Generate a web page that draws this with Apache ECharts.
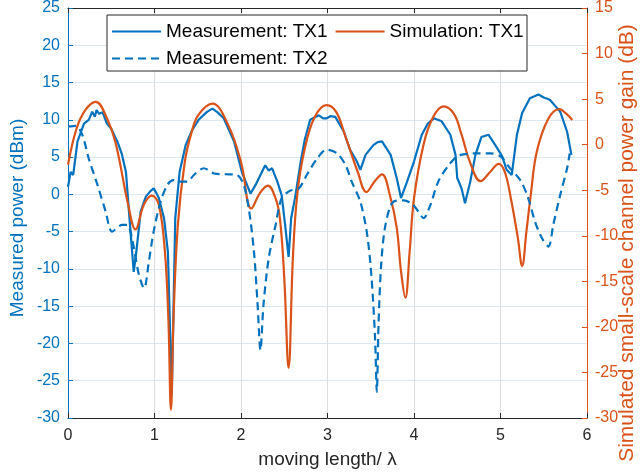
<!DOCTYPE html>
<html lang="en">

<head>
	<meta charset="UTF-8">
	<title>Measured power vs moving length</title>
	<script src="https://cdn.jsdelivr.net/npm/echarts@6/dist/echarts.min.js"></script>
	<style>
		html, body { margin: 0; padding: 0; background: #fff; }
		#main { width: 641px; height: 476px; }
	</style>
</head>

<body>
	<div id="main"></div>

	<script>
		// simulated channel gain (right axis, dB)
		const simX = [0, 0.1, 0.2, 0.32, 0.45, 0.55, 0.7, 0.78, 0.877, 0.97, 1.05, 1.12, 1.16, 1.19, 1.22, 1.27, 1.35, 1.43, 1.51, 1.67,
			1.85, 2.0, 2.12, 2.22, 2.31, 2.4, 2.45, 2.5, 2.55, 2.6, 2.65, 2.73, 2.85, 2.99, 3.1, 3.2, 3.35, 3.45, 3.54, 3.63,
			3.72, 3.8, 3.85, 3.9, 3.95, 4.0, 4.11, 4.22, 4.34, 4.46, 4.55, 4.65, 4.77, 4.88, 4.98, 5.05, 5.12, 5.2, 5.25, 5.3,
			5.35, 5.42, 5.55, 5.68, 5.76, 5.83];
		const simGain = [-2.2, 1.8, 3.8, 4.7, 2.9, 0.2, -6.8, -9.3, -6.6, -5.6, -6.6, -11.7, -19, -29.1, -19, -8.8, -1.9, 1.4, 3.3, 4.5,
			2.2, -1.9, -7.0, -5.3, -4.5, -5.9, -8.1, -14.6, -24.5, -12.4, -5.5, -0.75, 3.0, 4.35, 3.6, 1.1, -3.0, -5.2, -4.1, -3.25,
			-5.5, -9.1, -13.9, -16.8, -11.7, -5.9, 0, 3.0, 4.2, 3.4, 1.1, -2.0, -4.0, -3.0, -2.1, -3.0, -5.9, -10.2, -13.3, -9.5,
			-5.5, -0.75, 2.8, 3.9, 3.4, 2.7];

		// measurement TX1 (left axis, dBm)
		const tx1X = [0, 0.03, 0.06, 0.11, 0.185, 0.24, 0.28, 0.31, 0.33, 0.36, 0.4, 0.45, 0.5, 0.57, 0.62, 0.67, 0.72, 0.76, 0.79, 0.84,
			0.9, 0.95, 0.99, 1.02, 1.05, 1.11, 1.155, 1.2, 1.24, 1.29, 1.36, 1.435, 1.51, 1.61, 1.67, 1.73, 1.8, 1.92, 2.01, 2.11,
			2.17, 2.225, 2.28, 2.32, 2.36, 2.42, 2.47, 2.51, 2.55, 2.58, 2.63, 2.69, 2.74, 2.8, 2.9, 2.95, 2.99, 3.04, 3.09, 3.19,
			3.26, 3.34, 3.38, 3.44, 3.53, 3.58, 3.63, 3.73, 3.8, 3.85, 3.92, 4.0, 4.09, 4.16, 4.23, 4.32, 4.42, 4.48, 4.5, 4.55,
			4.59, 4.65, 4.71, 4.78, 4.86, 4.94, 5.02, 5.07, 5.13, 5.19, 5.25, 5.34, 5.44, 5.5, 5.57, 5.69, 5.77, 5.82];
		const tx1Power = [1.0, 3.0, 2.6, 7.1, 9.5, 10.0, 11.1, 10.4, 11.3, 10.8, 11.0, 9.5, 8.8, 7.1, 5.5, 3.0, -4.6, -10.4, -7.7, -2.3,
			-0.3, 0.4, 0.8, 0.2, -0.5, -3.2, -7.7, -26.9, -3.2, 3.0, 6.6, 8.6, 10.0, 11.1, 11.5, 11.0, 10.2, 7.1, 3.0, 0.1,
			1.3, 2.6, 3.9, 3.2, 3.5, 1.7, -0.1, -4.1, -8.4, -3.2, -0.1, 4.4, 7.5, 10.0, 10.6, 10.2, 10.2, 10.5, 10.4, 8.4,
			6.0, 4.4, 3.3, 5.3, 6.6, 7.0, 7.1, 5.3, 2.2, -0.5, 1.7, 4.4, 8.0, 9.5, 10.2, 9.8, 8.0, 5.3, 2.2, 0.8,
			-1.2, 1.7, 5.3, 7.7, 8.0, 6.6, 5.1, 3.3, 2.6, 8.0, 10.9, 12.9, 13.4, 13.0, 12.7, 11.1, 8.4, 5.3];

		// measurement TX2 (left axis, dBm)
		const tx2X = [0, 0.09, 0.165, 0.24, 0.34, 0.435, 0.51, 0.625, 0.685, 0.74, 0.82, 0.88, 0.935, 0.99, 1.07, 1.15, 1.22, 1.28, 1.38, 1.455,
			1.57, 1.69, 1.82, 1.955, 2.03, 2.09, 2.15, 2.19, 2.225, 2.26, 2.32, 2.4, 2.47, 2.57, 2.67, 2.76, 2.88, 2.99, 3.11, 3.21,
			3.28, 3.38, 3.46, 3.51, 3.55, 3.57, 3.59, 3.62, 3.67, 3.76, 3.88, 3.98, 4.05, 4.11, 4.19, 4.28, 4.4, 4.5, 4.59, 4.73,
			4.88, 5.0, 5.11, 5.23, 5.32, 5.4, 5.48, 5.555, 5.61, 5.69, 5.77, 5.8];
		const tx2Power = [9.1, 9.2, 8.0, 4.8, 1.3, -2.3, -5.0, -4.1, -4.1, -5.9, -10.8, -12.6, -9.0, -5.0, -1.0, 1.3, 1.9, 1.7, 1.7, 2.6,
			3.5, 2.8, 2.7, 2.6, 1.3, -1.9, -7.7, -14.4, -20.9, -14.8, -8.6, -4.1, -0.5, 0.5, 0.8, 2.6, 4.8, 6.0, 5.5, 3.9,
			1.7, -1.0, -5.5, -11.3, -19.3, -26.5, -17.5, -9.5, -4.1, -1.0, -0.8, -1.3, -2.3, -3.2, -1.4, 1.7, 3.9, 5.1, 5.4, 5.5,
			5.5, 5.1, 3.5, 1.9, -0.5, -3.7, -5.9, -7.0, -4.1, -0.1, 3.5, 5.5];

		const blue = '#0072BD';
		const orange = '#D95319';
		const dark = '#262626';

		function pairs(xs, ys) {
			return xs.map((x, i) => [x, ys[i]]);
		}

		const myChart = echarts.init(document.getElementById('main'));

		const legendText = { fontSize: 19, color: '#000' };
		// hide the legend's circle marker, keep only the line sample
		const noMarker = { color: 'rgba(0,0,0,0)', borderWidth: 0, opacity: 0 };

		const option = {
			animation: false,
			backgroundColor: '#fff',
			textStyle: { fontFamily: 'Liberation Sans, Arial, sans-serif' },
			grid: { left: 68, right: 54, top: 8, bottom: 58, containLabel: false, outerBoundsMode: 'none' },
			graphic: [{
				type: 'rect',
				z: 90,
				shape: { x: 107, y: 15, width: 420, height: 56 },
				style: { fill: '#fff', stroke: dark, lineWidth: 1 }
			}],
			legend: [{
				z: 100,
				left: 111,
				top: 22,
				itemWidth: 49,
				itemHeight: 14,
				itemGap: 7,
				padding: 0,
				itemStyle: noMarker,
				data: ['Measurement: TX1', 'Simulation: TX1'],
				textStyle: legendText
			}, {
				z: 100,
				left: 111,
				top: 49,
				itemWidth: 49,
				itemHeight: 14,
				padding: 0,
				itemStyle: noMarker,
				data: ['Measurement: TX2'],
				textStyle: legendText
			}],
			xAxis: [{
				type: 'value',
				position: 'bottom',
				min: 0,
				max: 6,
				interval: 1,
				name: 'moving length/ λ',
				nameLocation: 'middle',
				nameGap: 32,
				nameMoveOverlap: false,
				nameTextStyle: { fontSize: 19, color: dark },
				axisLine: { onZero: false, lineStyle: { color: dark, width: 1 } },
				axisTick: { inside: true, length: 5, lineStyle: { color: dark } },
				axisLabel: { color: dark, fontSize: 16, margin: 10 },
				splitLine: { show: true, lineStyle: { color: '#dedede', width: 1 } }
			}, {
				type: 'value',
				position: 'top',
				min: 0,
				max: 6,
				interval: 1,
				axisLine: { onZero: false, lineStyle: { color: dark, width: 1 } },
				axisTick: { inside: true, length: 5, lineStyle: { color: dark } },
				axisLabel: { show: false },
				splitLine: { show: false }
			}],
			yAxis: [{
				type: 'value',
				position: 'left',
				min: -30,
				max: 25,
				interval: 5,
				name: 'Measured power (dBm)',
				nameLocation: 'middle',
				nameRotate: 90,
				nameGap: 41,
				nameMoveOverlap: false,
				nameTextStyle: { fontSize: 19, color: blue, padding: [0, 10, 0, 0] },
				axisLine: { show: true, onZero: false, lineStyle: { color: blue, width: 1 } },
				axisTick: { show: true, inside: true, length: 5, lineStyle: { color: blue } },
				axisLabel: { color: blue, fontSize: 16, margin: 8 },
				splitLine: { show: true, lineStyle: { color: '#dbe8f2', width: 1 } }
			}, {
				type: 'value',
				position: 'right',
				min: -30,
				max: 15,
				interval: 5,
				name: 'Simulated small-scale channel power gain (dB)',
				nameLocation: 'middle',
				nameRotate: 90,
				nameGap: 30,
				nameMoveOverlap: false,
				nameTextStyle: { fontSize: 21, color: orange, padding: [0, 60, 0, 0] },
				axisLine: { show: true, onZero: false, lineStyle: { color: orange, width: 1 } },
				axisTick: { show: true, inside: true, length: 5, lineStyle: { color: orange } },
				axisLabel: { color: orange, fontSize: 16, margin: 8 },
				splitLine: { show: false }
			}],
			series: [{
				name: 'Measurement: TX1',
				type: 'line',
				yAxisIndex: 0,
				symbol: 'none',
				lineStyle: { color: blue, width: 2.2 },
				itemStyle: { color: blue },
				data: pairs(tx1X, tx1Power)
			}, {
				name: 'Simulation: TX1',
				type: 'line',
				yAxisIndex: 1,
				symbol: 'none',
				smooth: 0.4,
				lineStyle: { color: orange, width: 2.2 },
				itemStyle: { color: orange },
				data: pairs(simX, simGain)
			}, {
				name: 'Measurement: TX2',
				type: 'line',
				yAxisIndex: 0,
				symbol: 'none',
				smooth: 0.3,
				lineStyle: { color: blue, width: 2.2, type: [8, 5] },
				itemStyle: { color: blue },
				data: pairs(tx2X, tx2Power)
			}]
		};

		myChart.setOption(option);
	</script>
</body>

</html>
